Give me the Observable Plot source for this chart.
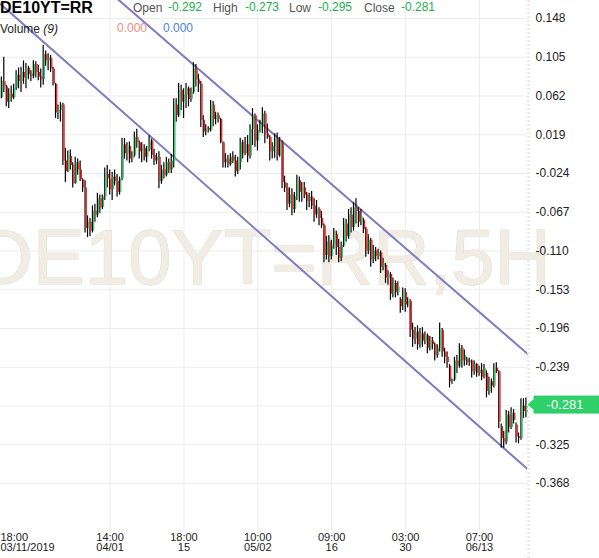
<!DOCTYPE html>
<html>
<head>
<meta charset="utf-8">
<script src="https://cdn.jsdelivr.net/npm/d3@7"></script>
<script src="https://cdn.jsdelivr.net/npm/@observablehq/plot@0.6"></script>
<style>
  html, body { margin: 0; padding: 0; background: #fff; }
  #wrap { position: relative; width: 599px; height: 558px; overflow: hidden; font-family: "Liberation Sans", Arial, sans-serif; }
  .t { position: absolute; white-space: nowrap; line-height: 12px; font-size: 12px; }
  .lbl { color: #555; }
  .val { color: #22b04b; }
</style>
</head>
<body>
<div id="wrap">
  <div id="chart"></div>
  <div class="t" style="left:0;top:0;font-size:16px;line-height:16px;font-weight:bold;color:#000">DE10YT=RR</div>
  <div class="t lbl" style="left:133px;top:2px">Open</div>
  <div class="t val" style="left:168px;top:1px">-0.292</div>
  <div class="t lbl" style="left:213px;top:2px">High</div>
  <div class="t val" style="left:245px;top:1px">-0.273</div>
  <div class="t lbl" style="left:289px;top:2px">Low</div>
  <div class="t val" style="left:318px;top:1px">-0.295</div>
  <div class="t lbl" style="left:364px;top:2px">Close</div>
  <div class="t val" style="left:401px;top:1px">-0.281</div>
  <div class="t" style="left:0;top:23px;color:#222">Volume <i>(9)</i></div>
  <div class="t" style="left:117px;top:22px;color:#f08a80">0.000</div>
  <div class="t" style="left:163px;top:22px;color:#4a82e8">0.000</div>
</div>
<script>
// OHLC values, one entry per 5H candle
const opens = [
 .060,.078,.072,.055,.064,.060,.071,.085,.078,.088,
 .082,.093,.086,.084,.097,.088,.083,.080,.108,.101,
 .104,.092,.075,.043,.046,.052,-.010,-.022,-.005,-.015,
 -.035,-.012,-.020,-.031,-.040,-.085,-.078,-.088,-.066,-.070,
 -.052,-.062,-.050,-.025,-.030,-.042,-.028,-.033,-.045,-.030,
 .008,-.002,.006,-.008,-.004,.016,.010,.000,.004,-.006,
 .002,.012,-.004,-.010,-.006,-.033,-.020,-.026,-.012,-.020,
 -.010,.052,.040,.068,.055,.063,.070,.058,.066,.092,
 .080,.075,.035,.022,.026,.024,.052,.036,.040,.036,
 .010,-.012,-.008,-.014,-.006,-.010,-.022,-.012,.010,-.002,
 .008,-.005,.025,.040,.012,.024,.030,.042,.020,.016,
 .000,.006,.014,-.004,.010,-.034,-.040,-.058,-.048,-.064,
 -.050,-.032,-.045,-.040,-.048,-.055,-.050,-.060,-.070,-.064,
 -.074,-.082,-.115,-.100,-.116,-.104,-.092,-.106,-.118,-.104,
 -.080,-.094,-.070,-.084,-.062,-.066,-.078,-.076,-.086,-.110,
 -.098,-.120,-.110,-.116,-.112,-.128,-.126,-.140,-.136,-.158,
 -.146,-.156,-.164,-.172,-.156,-.170,-.166,-.198,-.208,-.200,
 -.214,-.202,-.210,-.204,-.218,-.210,-.214,-.226,-.218,-.198,
 -.222,-.228,-.238,-.255,-.253,-.232,-.238,-.218,-.232,-.230,
 -.234,-.232,-.244,-.236,-.246,-.242,-.250,-.246,-.266,-.255,
 -.260,-.240,-.244,-.305,-.318,-.322,-.292,-.306,-.290,-.303,
 -.316,-.318,-.282,-.292
];
const highs = [
 .083,.105,.074,.070,.073,.075,.090,.093,.094,.101,
 .098,.095,.090,.101,.100,.096,.092,.118,.112,.109,
 .107,.094,.076,.052,.055,.054,.004,.001,.002,-.012,
 -.006,-.008,-.010,-.030,-.032,-.071,-.074,-.060,-.058,-.046,
 -.048,-.048,-.018,-.015,-.020,-.023,-.020,-.025,-.028,.015,
 .015,.010,.011,.000,.022,.025,.012,.010,.008,.006,
 .018,.014,.003,-.002,.000,-.015,-.012,-.006,-.008,-.003,
 .059,.059,.076,.074,.070,.076,.072,.071,.099,.097,
 .086,.078,.040,.030,.028,.057,.056,.044,.043,.037,
 .011,-.002,-.004,-.002,.000,-.004,-.006,.015,.013,.016,
 .018,.030,.048,.042,.030,.035,.049,.045,.031,.018,
 .010,.020,.021,.016,.012,-.027,-.035,-.040,-.041,-.045,
 -.026,-.028,-.034,-.034,-.045,-.046,-.044,-.052,-.054,-.062,
 -.066,-.080,-.094,-.093,-.098,-.085,-.088,-.097,-.100,-.074,
 -.075,-.064,-.062,-.056,-.052,-.062,-.064,-.074,-.084,-.092,
 -.096,-.104,-.106,-.108,-.110,-.118,-.124,-.132,-.134,-.140,
 -.143,-.144,-.162,-.151,-.152,-.162,-.164,-.190,-.195,-.193,
 -.196,-.195,-.200,-.202,-.205,-.206,-.212,-.214,-.190,-.196,
 -.218,-.222,-.236,-.252,-.228,-.226,-.213,-.215,-.220,-.228,
 -.229,-.231,-.232,-.235,-.238,-.235,-.236,-.243,-.250,-.252,
 -.235,-.234,-.243,-.302,-.310,-.287,-.288,-.284,-.286,-.301,
 -.312,-.274,-.274,-.273
];
const lows = [
 .059,.066,.050,.048,.055,.058,.068,.070,.066,.075,
 .070,.080,.078,.081,.082,.079,.071,.074,.095,.090,
 .088,.073,.037,.036,.033,-.015,-.034,-.023,-.020,-.040,
 -.036,-.026,-.033,-.045,-.090,-.095,-.094,-.090,-.078,-.073,
 -.068,-.064,-.054,-.040,-.048,-.054,-.038,-.050,-.048,-.032,
 -.008,-.010,-.013,-.012,-.006,.004,-.008,-.012,-.010,-.012,
 .000,-.008,-.015,-.014,-.041,-.036,-.030,-.028,-.024,-.024,
 -.018,.033,.038,.046,.037,.048,.050,.055,.064,.072,
 .066,.027,.016,.018,.021,.022,.028,.030,.032,.009,
 -.018,-.018,-.018,-.016,-.013,-.028,-.025,-.020,-.008,-.004,
 -.012,-.008,.007,.005,.001,.021,.020,.009,.014,-.010,
 -.008,-.007,-.010,-.006,-.041,-.045,-.065,-.062,-.071,-.068,
 -.054,-.056,-.056,-.052,-.065,-.062,-.064,-.078,-.074,-.082,
 -.085,-.123,-.120,-.123,-.120,-.108,-.115,-.123,-.122,-.106,
 -.100,-.097,-.090,-.088,-.080,-.084,-.082,-.091,-.117,-.114,
 -.128,-.124,-.122,-.120,-.135,-.132,-.146,-.148,-.165,-.162,
 -.162,-.160,-.179,-.176,-.178,-.173,-.206,-.217,-.214,-.220,
 -.218,-.217,-.214,-.224,-.221,-.220,-.232,-.229,-.222,-.228,
 -.235,-.240,-.262,-.258,-.255,-.246,-.240,-.240,-.238,-.237,
 -.238,-.251,-.248,-.250,-.249,-.254,-.252,-.273,-.270,-.268,
 -.262,-.246,-.307,-.329,-.329,-.325,-.312,-.308,-.302,-.323,
 -.324,-.320,-.296,-.295
];
const closes = [
 .078,.072,.055,.064,.060,.071,.085,.078,.088,.082,
 .093,.086,.084,.097,.088,.083,.080,.108,.101,.104,
 .092,.075,.043,.046,.052,-.010,-.022,-.005,-.015,-.035,
 -.012,-.020,-.031,-.040,-.085,-.078,-.088,-.066,-.070,-.052,
 -.062,-.050,-.025,-.030,-.042,-.028,-.033,-.045,-.030,.008,
 -.002,.006,-.008,-.004,.016,.010,.000,.004,-.006,.002,
 .012,-.004,-.010,-.006,-.033,-.020,-.026,-.012,-.020,-.010,
 .052,.040,.068,.055,.063,.070,.058,.066,.092,.080,
 .075,.035,.022,.026,.024,.052,.036,.040,.036,.010,
 -.012,-.008,-.014,-.006,-.010,-.022,-.012,.010,-.002,.008,
 -.005,.025,.040,.012,.024,.030,.042,.020,.016,.000,
 .006,.014,-.004,.010,-.034,-.040,-.058,-.048,-.064,-.050,
 -.032,-.045,-.040,-.048,-.055,-.050,-.060,-.070,-.064,-.074,
 -.082,-.115,-.100,-.116,-.104,-.092,-.106,-.118,-.104,-.080,
 -.094,-.070,-.084,-.062,-.066,-.078,-.072,-.086,-.110,-.098,
 -.120,-.110,-.116,-.112,-.128,-.124,-.140,-.136,-.158,-.146,
 -.156,-.150,-.172,-.156,-.170,-.166,-.198,-.208,-.200,-.214,
 -.202,-.210,-.204,-.218,-.210,-.214,-.226,-.218,-.198,-.222,
 -.228,-.234,-.255,-.253,-.232,-.238,-.218,-.232,-.226,-.234,
 -.232,-.244,-.236,-.246,-.242,-.250,-.240,-.266,-.255,-.260,
 -.240,-.244,-.300,-.318,-.322,-.292,-.306,-.290,-.298,-.316,
 -.318,-.282,-.288,-.281
];

// Channel lines (candle index, value)
const upperChannelIdx = [-0.5, 213.5];
const upperChannelVal = [0.282, -0.224];
const lowerChannelIdx = [-0.5, 213.5];
const lowerChannelVal = [0.164, -0.352];

// Axis ticks (the -0.282 grid line's label sits under the last-price tag)
const yGrid = [0.148, 0.105, 0.062, 0.019, -0.024, -0.067, -0.110, -0.153, -0.196, -0.239, -0.282, -0.325, -0.368];
const yTickLabels = [0.148, 0.105, 0.062, 0.019, -0.024, -0.067, -0.110, -0.153, -0.196, -0.239, -0.325, -0.368];
const xTickIdx = [44, 74, 104, 134, 164, 194];
const xTickTime = ["14:00", "18:00", "10:00", "09:00", "03:00", "07:00"];
const xTickDate = ["04/01", "15", "05/02", "16", "30", "06/13"];
const firstTickLabel = ["18:00", "03/11/2019"];
const watermark = "DE10YT=RR,5H";
const lastClose = closes[closes.length - 1];

const candles = closes.map((c, i) => ({i, open: opens[i], high: highs[i], low: lows[i], close: c}));
const upper = upperChannelIdx.map((x, k) => ({i: x, v: upperChannelVal[k]}));
const lower = lowerChannelIdx.map((x, k) => ({i: x, v: lowerChannelVal[k]}));
const xLab = new Map(xTickIdx.map((d, k) => [d, xTickTime[k] + "\n" + xTickDate[k]]));

const GREEN = "#2fcf6a", RED = "#ff1a1a";

const plot = Plot.plot({
  width: 599,
  height: 558,
  marginLeft: 0,
  marginRight: 72,
  marginTop: 0,
  marginBottom: 28,
  style: {fontFamily: "'Liberation Sans', Arial, sans-serif", background: "transparent"},
  x: {type: "linear", domain: [-0.5, candles.length - 0.5], axis: null, label: null},
  y: {type: "linear", domain: [-0.42017, 0.16797], axis: null, label: null},
  marks: [
    Plot.gridY(yGrid, {stroke: "#ececec", strokeOpacity: 1}),
    Plot.gridX(xTickIdx, {stroke: "#ececec", strokeOpacity: 1}),
    Plot.text([watermark], {text: d => d, frameAnchor: "left", textAnchor: "start", dx: -24, dy: -6,
      fontSize: 78, fill: "#f1ede4", stroke: "#e2dbcb", strokeWidth: 1}),
    Plot.line(upper, {x: "i", y: "v", stroke: "#7d7dc3", strokeWidth: 2}),
    Plot.line(lower, {x: "i", y: "v", stroke: "#7d7dc3", strokeWidth: 2}),
    Plot.ruleX(candles, {x: "i", y1: "low", y2: "high", stroke: "#000", strokeWidth: 1.2, dx: -0.4}),
    Plot.ruleX(candles, {x: "i", y1: "open", y2: "close", stroke: d => d.close >= d.open ? GREEN : RED, strokeWidth: 1.3, dx: 0.8}),
    Plot.axisY(yTickLabels, {anchor: "right", label: null, tickSize: 0, tickPadding: 8, tickFormat: d => d.toFixed(3), fontSize: 12, fill: "#222"}),
    Plot.axisX(xTickIdx, {anchor: "bottom", label: null, tickSize: 0, tickPadding: 3, tickFormat: d => xLab.get(d), fontSize: 11, lineHeight: 0.92, fill: "#222"}),
    Plot.text([firstTickLabel.join("\n")], {text: d => d, frameAnchor: "bottom-left", textAnchor: "start", lineAnchor: "top", dy: 3, fontSize: 11, lineHeight: 0.92, fill: "#222"})
  ]
});

document.getElementById("chart").appendChild(plot);

// right-edge hatched separator and last-price tag
const svg = d3.select(plot);
const xEdge = plot.scale("x").apply(candles.length - 0.5);
svg.append("line").attr("x1", xEdge + 1.5).attr("x2", xEdge + 1.5).attr("y1", 0).attr("y2", 558)
  .attr("stroke", "#ececec").attr("stroke-width", 3).attr("stroke-dasharray", "2 2");
const yv = plot.scale("y").apply(lastClose);
const g = svg.append("g");
g.append("path")
  .attr("d", `M${xEdge + 1},${yv} L${xEdge + 7},${yv - 5} L${xEdge + 7},${yv - 8.5} L599,${yv - 8.5} L599,${yv + 8.5} L${xEdge + 7},${yv + 8.5} L${xEdge + 7},${yv + 5} Z`)
  .attr("fill", GREEN).attr("stroke", GREEN).attr("stroke-linejoin", "round").attr("stroke-width", 1);
g.append("text").attr("x", 565).attr("y", yv).attr("dy", "0.35em").attr("text-anchor", "middle")
  .attr("fill", "#fff").attr("font-size", 13).attr("font-family", "'Liberation Sans', Arial, sans-serif")
  .text(lastClose.toFixed(3));
</script>
</body>
</html>
